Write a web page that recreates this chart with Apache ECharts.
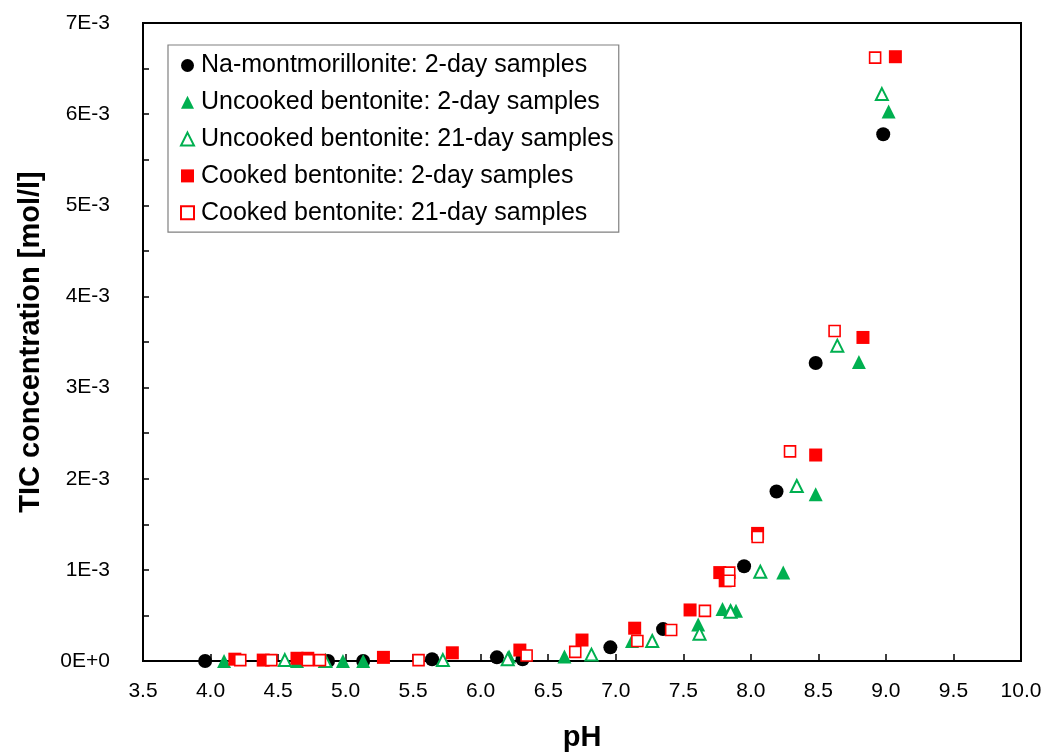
<!DOCTYPE html>
<html>
<head>
<meta charset="utf-8">
<script src="https://cdn.jsdelivr.net/npm/echarts@6/dist/echarts.min.js"></script>
<style>html,body{margin:0;padding:0;background:#fff}#c{width:1051px;height:753px}</style>
</head>
<body>
<div id="c"></div>
<script>
const seriesNames = [
  "Na-montmorillonite: 2-day samples",
  "Uncooked bentonite: 2-day samples",
  "Uncooked bentonite: 21-day samples",
  "Cooked bentonite: 2-day samples",
  "Cooked bentonite: 21-day samples"
];
// [pH, TIC mol/l]
const naMont2 = [[3.96,0],[4.87,0],[5.13,0],[5.64,0.00002],[6.12,0.00004],[6.31,0.00002],[6.96,0.00015],[7.35,0.00035],[7.95,0.00104],[8.19,0.00186],[8.48,0.00327],[8.98,0.00578]];
const uncooked2 = [[4.10,0],[4.64,0],[4.98,0],[5.13,0],[6.21,0.00005],[6.62,0.00005],[7.12,0.00022],[7.61,0.00040],[7.79,0.00057],[7.85,0.00056],[7.89,0.00055],[8.24,0.00097],[8.48,0.00183],[8.80,0.00328],[9.02,0.00603]];
const uncooked21 = [[4.55,0.00001],[4.85,0],[5.43,-0.00001],[5.72,0.00001],[6.20,0.00002],[6.82,0.00007],[7.27,0.00022],[7.62,0.00030],[7.85,0.00054],[8.07,0.00098],[8.34,0.00192],[8.64,0.00346],[8.97,0.00622]];
const cooked2 = [[4.18,0.00002],[4.39,0.00001],[4.64,0.00003],[4.72,0.00003],[5.28,0.00004],[5.79,0.00009],[6.29,0.00012],[6.75,0.00023],[7.14,0.00036],[7.55,0.00056],[7.77,0.00097],[7.81,0.00088],[8.05,0.00140],[8.48,0.00226],[8.83,0.00355],[9.07,0.00663]];
const cooked21 = [[4.22,0.00001],[4.45,0.00001],[4.72,0.00001],[4.81,0.00001],[5.54,0.00001],[6.34,0.00006],[6.70,0.00010],[7.16,0.00022],[7.41,0.00034],[7.66,0.00055],[7.84,0.00097],[7.84,0.00088],[8.05,0.00136],[8.29,0.00230],[8.62,0.00362],[8.92,0.00662]];
const xTicks = {min:3.5, max:10, step:0.5};
const yTicks = {min:0, max:0.007, step:0.001};

const FONT = "Liberation Sans, Arial, sans-serif";
const GREEN = "#00B050", RED = "#FF0000";
const chart = echarts.init(document.getElementById('c'), null, {renderer:'canvas'});
function sc(name, data, symbol, size, fill, border, bw){
  return {name, type:'scatter', data, symbol, symbolSize:size,
    itemStyle:{color:fill, borderColor:border, borderWidth:bw, opacity:1},
    emphasis:{disabled:true}, z: 3};
}
chart.setOption({
  animation:false,
  backgroundColor:'#fff',
  grid:{left:143, right:30, top:23, bottom:92, outerBoundsMode:'none', containLabel:false,
    show:true, borderColor:'#000', borderWidth:2, backgroundColor:'transparent'},
  legend:{
    orient:'vertical', left:168, top:45,
    padding:[8,5,7,12], itemGap:11.8, itemWidth:13, itemHeight:13,
    borderColor:'#808080', borderWidth:1.2, backgroundColor:'#fff',
    textStyle:{fontFamily:FONT, fontSize:25, color:'#000', padding:[0,0,0,2]},
    data: seriesNames.map(n=>({name:n}))
  },
  xAxis:{type:'value', min:xTicks.min, max:xTicks.max, interval:xTicks.step,
    name:'pH', nameLocation:'middle', nameGap:62,
    nameTextStyle:{fontFamily:FONT, fontSize:29, fontWeight:'bold', color:'#000'},
    axisLine:{show:true, onZero:false, lineStyle:{color:'#000', width:2}},
    axisTick:{show:true, inside:true, length:7, lineStyle:{color:'#000', width:1.5}},
    axisLabel:{fontFamily:FONT, fontSize:21, color:'#000', margin:20, formatter:v=>v.toFixed(1)},
    splitLine:{show:false}},
  yAxis:{type:'value', min:yTicks.min, max:yTicks.max, interval:yTicks.step,
    name:'TIC concentration [mol/l]', nameLocation:'middle', nameGap:98,
    nameTextStyle:{fontFamily:FONT, fontSize:29, fontWeight:'bold', color:'#000'},
    axisLine:{show:true, onZero:false, lineStyle:{color:'#000', width:2}},
    axisTick:{show:true, inside:true, length:6, lineStyle:{color:'#000', width:1.5}},
    minorTick:{show:true, splitNumber:2, length:6, lineStyle:{color:'#000', width:1.5}},
    axisLabel:{fontFamily:FONT, fontSize:21, color:'#000', margin:33,
      formatter:v=>{const k=Math.round(v*1000); return k===0?'0E+0':k+'E-3';}},
    splitLine:{show:false}},
  series:[
    sc(seriesNames[0], naMont2, 'circle', 14, '#000', '#000', 0),
    sc(seriesNames[1], uncooked2, 'triangle', 14, GREEN, GREEN, 0),
    sc(seriesNames[2], uncooked21, 'triangle', 12, '#fff', GREEN, 2),
    sc(seriesNames[3], cooked2, 'rect', 13, RED, RED, 0),
    sc(seriesNames[4], cooked21, 'rect', 11, '#fff', RED, 1.6)
  ]
});
</script>
</body>
</html>
